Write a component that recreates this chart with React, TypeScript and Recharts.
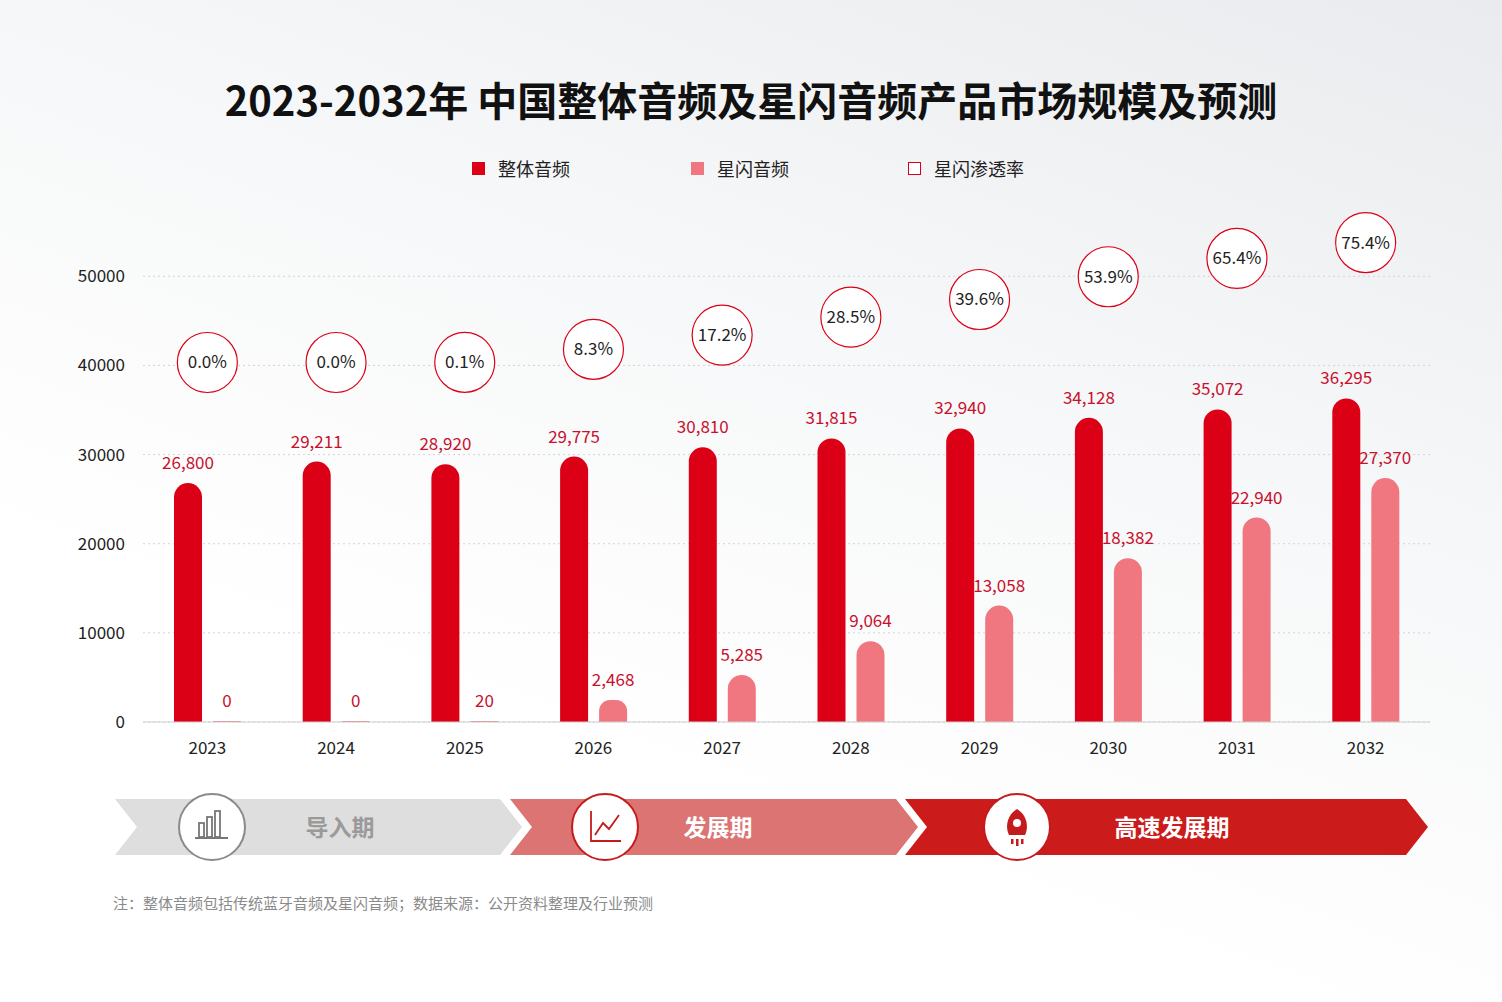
import { ComposedChart, Bar, Scatter, XAxis, YAxis, CartesianGrid, LabelList } from "recharts";

const years = ["2023", "2024", "2025", "2026", "2027", "2028", "2029", "2030", "2031", "2032"];
const totalAudio = [26800, 29211, 28920, 29775, 30810, 31815, 32940, 34128, 35072, 36295];
const flashAudio = [0, 0, 20, 2468, 5285, 9064, 13058, 18382, 22940, 27370];
const flashRate = [0.0, 0.0, 0.1, 8.3, 17.2, 28.5, 39.6, 53.9, 65.4, 75.4];
const yTicks = [0, 10000, 20000, 30000, 40000, 50000];

const RED = "#dc0016";
const PINK = "#f07680";
const FONT = "'Noto Sans CJK SC', 'Noto Sans', sans-serif";

const data = years.map((y, i) => ({ year: y, total: totalAudio[i], flash: flashAudio[i], rate: flashRate[i] }));

const fmt = (v: any) => Number(v).toLocaleString("en-US");

// 渗透率圆圈
const RateBubble = (p: any) => (
  <g>
    <circle cx={p.cx} cy={p.cy} r={30} fill="#fff" stroke={RED} strokeWidth={1.2} />
    <text x={p.cx} y={p.cy + 6} textAnchor="middle" fontSize={17} fill="#222" fontFamily={FONT}>
      {p.payload.rate.toFixed(1)}%
    </text>
  </g>
);

const phases = [
  { x: 115, w: 407, fill: "#dedede", icon: 212, text: "导入期", tx: 340, color: "#9a9a9a", ring: "#8a8a8a" },
  { x: 510, w: 408, fill: "#dc7474", icon: 605, text: "发展期", tx: 718, color: "#fff", ring: "#c41c1c" },
  { x: 905, w: 523, fill: "#cc1b1b", icon: 1017, text: "高速发展期", tx: 1172, color: "#fff", ring: "#c41c1c" },
];

function Phases() {
  return (
    <svg width={1502} height={80} style={{ position: "absolute", left: 0, top: 787 }}>
      {phases.map((p, i) => {
        const y0 = 12, y1 = 68, tip = 22;
        const pts = `${p.x},${y0} ${p.x + p.w - tip},${y0} ${p.x + p.w},${(y0 + y1) / 2} ${p.x + p.w - tip},${y1} ${p.x},${y1} ${p.x + tip},${(y0 + y1) / 2}`;
        return (
          <g key={i}>
            <polygon points={pts} fill={p.fill} />
            <circle cx={p.icon} cy={40} r={33} fill="#fff" stroke={p.ring} strokeWidth={2} />
            <text x={p.tx} y={49} textAnchor="middle" fontSize={23} fontWeight={700} fill={p.color} fontFamily={FONT}>{p.text}</text>
          </g>
        );
      })}
      <g stroke="#777" strokeWidth={1.8} fill="none">
        <rect x={199} y={36} width={5} height={14} />
        <rect x={207} y={30} width={5} height={20} />
        <rect x={215} y={24} width={5} height={26} />
        <line x1={195} y1={51} x2={228} y2={51} />
      </g>
      <g stroke="#c41c1c" strokeWidth={1.8} fill="none">
        <polyline points="591,24 591,54 621,54" />
        <polyline points="595,48 603,36 609,42 619,28" />
      </g>
      <g fill="#c41c1c">
        <path d="M1017,22 C1027,28 1029,40 1025,48 L1009,48 C1005,40 1007,28 1017,22 Z" />
        <circle cx={1017} cy={36} r={4} fill="#fff" />
        <rect x={1011} y={52} width={2.5} height={5} />
        <rect x={1016} y={52} width={2.5} height={7} />
        <rect x={1021} y={52} width={2.5} height={5} />
      </g>
    </svg>
  );
}

export default function App() {
  return (
    <div style={{ position: "absolute", left: 0, top: 0, width: 1502, height: 1002, overflow: "hidden", fontFamily: FONT,
      background: "linear-gradient(200deg, #e9ebee 0%, #f6f7f8 35%, #ffffff 70%)" }}>
      <div style={{ position: "absolute", top: 70, width: 1502, textAlign: "center", fontSize: 40, fontWeight: 700, color: "#111" }}>
        2023-2032年 中国整体音频及星闪音频产品市场规模及预测
      </div>
      <div style={{ position: "absolute", top: 155, left: 0, width: 1502, fontSize: 18, color: "#222" }}>
        <span style={{ position: "absolute", left: 472, display: "flex", alignItems: "center" }}>
          <i style={{ width: 13, height: 13, background: RED, marginRight: 13 }} />整体音频
        </span>
        <span style={{ position: "absolute", left: 691, display: "flex", alignItems: "center" }}>
          <i style={{ width: 13, height: 13, background: PINK, marginRight: 13 }} />星闪音频
        </span>
        <span style={{ position: "absolute", left: 908, display: "flex", alignItems: "center" }}>
          <i style={{ width: 11, height: 11, border: `1px solid ${RED}`, background: "#fff", marginRight: 13 }} />星闪渗透率
        </span>
      </div>
      <div style={{ position: "absolute", left: 0, top: 0 }}>
        <ComposedChart width={1502} height={780} data={data} margin={{ top: 205, right: 72, left: 83, bottom: 28 }} barGap={11}>
          <CartesianGrid vertical={false} stroke="#d4d4d4" strokeDasharray="2 3" horizontalValues={yTicks} yAxisId="v" />
          <XAxis dataKey="year" tickLine={false} axisLine={{ stroke: "#cfcfcf" }} height={30}
            tick={{ fontSize: 17, fill: "#222", fontFamily: FONT }} tickMargin={14} />
          <YAxis yAxisId="v" width={60} domain={[0, 58000]} ticks={yTicks} tickLine={false} axisLine={false}
            tick={{ fontSize: 17, fill: "#222", fontFamily: FONT, dx: -10 }} />
          <YAxis yAxisId="rate" hide orientation="right" width={0} domain={[-226, 99]} />
          <Bar yAxisId="v" dataKey="total" fill={RED} barSize={28} radius={[14, 14, 0, 0]} isAnimationActive={false}>
            <LabelList dataKey="total" position="top" offset={14} formatter={fmt} fill="#c8102e" fontSize={17} fontFamily={FONT} />
          </Bar>
          <Bar yAxisId="v" dataKey="flash" fill={PINK} barSize={28} radius={[14, 14, 0, 0]} minPointSize={1} isAnimationActive={false}>
            <LabelList dataKey="flash" position="top" offset={14} formatter={fmt} fill="#c8102e" fontSize={17} fontFamily={FONT} />
          </Bar>
          <Scatter yAxisId="rate" dataKey="rate" shape={RateBubble} isAnimationActive={false} />
        </ComposedChart>
      </div>
      <Phases />
      <div style={{ position: "absolute", left: 113, top: 892, fontSize: 15, color: "#8a8a8a" }}>
        注：整体音频包括传统蓝牙音频及星闪音频；数据来源：公开资料整理及行业预测
      </div>
    </div>
  );
}
